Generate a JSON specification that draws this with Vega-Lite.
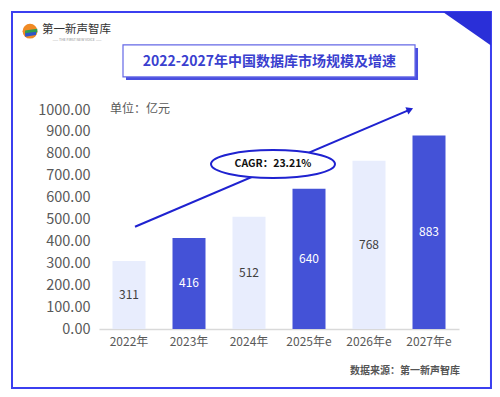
{
  "$schema": "https://vega.github.io/schema/vega-lite/v6.json",
  "width": 360,
  "height": 219,
  "autosize": {"type": "none"},
  "padding": {"left": 99, "top": 110, "right": 41, "bottom": 68},
  "background": "white",
  "config": {"view": {"stroke": null}, "font": "Noto Sans CJK SC", "axisY": {"labelOverlap": false}},
  "layer": [
    {
      "data": {"values": [
        {"year": "2022年", "value": 311, "kind": "light"},
        {"year": "2023年", "value": 416, "kind": "dark"},
        {"year": "2024年", "value": 512, "kind": "light"},
        {"year": "2025年e", "value": 640, "kind": "dark"},
        {"year": "2026年e", "value": 768, "kind": "light"},
        {"year": "2027年e", "value": 883, "kind": "dark"}
      ]},
      "encoding": {
        "x": {"field": "year", "type": "nominal", "sort": null,
              "scale": {"paddingInner": 0.45, "paddingOuter": 0.225},
              "axis": {"title": null, "labelAngle": 0, "domainColor": "#d9d9d9", "domainWidth": 1.5, "ticks": false, "labelFontSize": 12, "labelColor": "#595959", "labelPadding": 7}}
      },
      "layer": [
        {
          "mark": {"type": "bar"},
          "encoding": {
            "y": {"field": "value", "type": "quantitative",
                  "scale": {"domain": [0, 1000], "nice": false},
                  "axis": {"title": null, "values": [0,100,200,300,400,500,600,700,800,900,1000], "format": ".2f", "labelOverlap": false, "domain": false, "ticks": false, "grid": false, "labelFontSize": 14.5, "labelColor": "#595959", "labelPadding": 9}},
            "color": {"field": "kind", "type": "nominal", "scale": {"domain": ["light", "dark"], "range": ["#E8EDFD", "#4452D7"]}, "legend": null}
          }
        },
        {
          "transform": [{"calculate": "datum.value / 2", "as": "mid"}],
          "mark": {"type": "text", "fontSize": 12, "baseline": "middle"},
          "encoding": {
            "y": {"field": "mid", "type": "quantitative",
                  "axis": {"title": null, "values": [0,100,200,300,400,500,600,700,800,900,1000], "format": ".2f", "labelOverlap": false, "domain": false, "ticks": false, "grid": false, "labelFontSize": 14.5, "labelColor": "#595959", "labelPadding": 9}},
            "text": {"field": "value", "type": "quantitative"},
            "color": {"condition": {"test": "datum.kind === 'dark'", "value": "#ffffff"}, "value": "#404040"}
          }
        }
      ]
    },
    {
      "layer": [
        {
          "data": {"values": [{"x": -1.45, "x2": 6.533, "y": -269, "y2": 1447}]},
          "mark": {"type": "rect", "fill": "#ffffff", "fillOpacity": 0, "stroke": "#3B3FF0", "strokeWidth": 2, "clip": false},
          "encoding": {
            "x": {"field": "x", "type": "quantitative", "scale": {"domain": [0, 6], "nice": false, "zero": false}, "axis": null},
            "x2": {"field": "x2"},
            "y": {"field": "y", "type": "quantitative", "scale": {"domain": [0, 1000], "nice": false, "zero": false}, "axis": null},
            "y2": {"field": "y2"}
          }
        },
        {
          "data": {"values": [{"x": 0.45, "x2": 5.317, "y": 1137, "y2": 1283}]},
          "mark": {"type": "rect", "fill": "#4A4FE0", "clip": false},
          "encoding": {
            "x": {"field": "x", "type": "quantitative", "scale": {"domain": [0, 6], "nice": false, "zero": false}, "axis": null},
            "x2": {"field": "x2"},
            "y": {"field": "y", "type": "quantitative", "scale": {"domain": [0, 1000], "nice": false, "zero": false}, "axis": null},
            "y2": {"field": "y2"}
          }
        },
        {
          "data": {"values": [{"x": 0.4, "x2": 5.267, "y": 1151, "y2": 1297}]},
          "mark": {"type": "rect", "fill": "#ffffff", "stroke": "#6468E6", "strokeWidth": 1.2, "clip": false},
          "encoding": {
            "x": {"field": "x", "type": "quantitative", "scale": {"domain": [0, 6], "nice": false, "zero": false}, "axis": null},
            "x2": {"field": "x2"},
            "y": {"field": "y", "type": "quantitative", "scale": {"domain": [0, 1000], "nice": false, "zero": false}, "axis": null},
            "y2": {"field": "y2"}
          }
        },
        {
          "data": {"values": [{"x": 6.133, "y": 1338}]},
          "mark": {"type": "point", "shape": "M-1,-1 L1,-1 L1,0.4 Z", "size": 2304, "filled": true, "fill": "#2A2FD8", "opacity": 1, "clip": false},
          "encoding": {
            "x": {"field": "x", "type": "quantitative", "scale": {"domain": [0, 6], "nice": false, "zero": false}, "axis": null},
            "y": {"field": "y", "type": "quantitative", "scale": {"domain": [0, 1000], "nice": false, "zero": false}, "axis": null}
          }
        },
        {
          "data": {"values": [{"x": -1.15, "y": 1360}]},
          "mark": {"type": "point", "shape": "circle", "size": 220, "filled": true, "fill": "#F08A24", "opacity": 1, "clip": false},
          "encoding": {
            "x": {"field": "x", "type": "quantitative", "scale": {"domain": [0, 6], "nice": false, "zero": false}, "axis": null},
            "y": {"field": "y", "type": "quantitative", "scale": {"domain": [0, 1000], "nice": false, "zero": false}, "axis": null}
          }
        },
        {
          "data": {"values": [{"x": -1.13, "y": 1357}]},
          "mark": {"type": "point", "shape": "M-1,-0.2 L1,-0.5 L1,0.1 L-1,0.4 Z", "size": 150, "filled": true, "fill": "#2E9E4F", "opacity": 1, "clip": false},
          "encoding": {
            "x": {"field": "x", "type": "quantitative", "scale": {"domain": [0, 6], "nice": false, "zero": false}, "axis": null},
            "y": {"field": "y", "type": "quantitative", "scale": {"domain": [0, 1000], "nice": false, "zero": false}, "axis": null}
          }
        },
        {
          "data": {"values": [{"x": -1.14, "y": 1345}]},
          "mark": {"type": "point", "shape": "M-1,-0.2 L1,-0.5 L1,0.1 L-1,0.4 Z", "size": 120, "filled": true, "fill": "#2F55C8", "opacity": 1, "clip": false},
          "encoding": {
            "x": {"field": "x", "type": "quantitative", "scale": {"domain": [0, 6], "nice": false, "zero": false}, "axis": null},
            "y": {"field": "y", "type": "quantitative", "scale": {"domain": [0, 1000], "nice": false, "zero": false}, "axis": null}
          }
        },
        {
          "data": {"values": [{"x": 0.6, "y": 467, "x2": 5.183, "y2": 1002}]},
          "mark": {"type": "rule", "stroke": "#1F22D0", "strokeWidth": 2, "clip": false},
          "encoding": {
            "x": {"field": "x", "type": "quantitative", "scale": {"domain": [0, 6], "nice": false, "zero": false}, "axis": null},
            "x2": {"field": "x2"},
            "y": {"field": "y", "type": "quantitative", "scale": {"domain": [0, 1000], "nice": false, "zero": false}, "axis": null},
            "y2": {"field": "y2"}
          }
        },
        {
          "data": {"values": [{"x": 5.183, "y": 1002}]},
          "mark": {"type": "point", "shape": "triangle-right", "angle": -23, "size": 60, "filled": true, "fill": "#1F22D0", "opacity": 1, "clip": false},
          "encoding": {
            "x": {"field": "x", "type": "quantitative", "scale": {"domain": [0, 6], "nice": false, "zero": false}, "axis": null},
            "y": {"field": "y", "type": "quantitative", "scale": {"domain": [0, 1000], "nice": false, "zero": false}, "axis": null}
          }
        },
        {
          "data": {"values": [{"x": 2.9, "y": 753}]},
          "mark": {"type": "point", "shape": "M-1,0 A1,0.226 0 1,0 1,0 A1,0.226 0 1,0 -1,0 Z", "size": 15376, "filled": true, "fill": "#ffffff", "stroke": "#1F22D0", "strokeWidth": 2, "opacity": 1, "clip": false},
          "encoding": {
            "x": {"field": "x", "type": "quantitative", "scale": {"domain": [0, 6], "nice": false, "zero": false}, "axis": null},
            "y": {"field": "y", "type": "quantitative", "scale": {"domain": [0, 1000], "nice": false, "zero": false}, "axis": null}
          }
        },
        {
          "data": {"values": [{"x": 2.9, "y": 753, "t": "CAGR：23.21%"}]},
          "mark": {"type": "text", "fontSize": 10.5, "fontWeight": "bold", "color": "#111111", "baseline": "middle", "clip": false},
          "encoding": {
            "x": {"field": "x", "type": "quantitative", "scale": {"domain": [0, 6], "nice": false, "zero": false}, "axis": null},
            "y": {"field": "y", "type": "quantitative", "scale": {"domain": [0, 1000], "nice": false, "zero": false}, "axis": null},
            "text": {"field": "t"}
          }
        },
        {
          "data": {"values": [{"x": 2.84, "y": 1219, "t": "2022-2027年中国数据库市场规模及增速"}]},
          "mark": {"type": "text", "fontSize": 14, "fontWeight": "bold", "color": "#3A3FCF", "baseline": "middle", "clip": false},
          "encoding": {
            "x": {"field": "x", "type": "quantitative", "scale": {"domain": [0, 6], "nice": false, "zero": false}, "axis": null},
            "y": {"field": "y", "type": "quantitative", "scale": {"domain": [0, 1000], "nice": false, "zero": false}, "axis": null},
            "text": {"field": "t"}
          }
        },
        {
          "data": {"values": [{"x": -0.95, "y": 1367, "t": "第一新声智库"}]},
          "mark": {"type": "text", "fontSize": 11.5, "color": "#333333", "align": "left", "baseline": "middle", "clip": false},
          "encoding": {
            "x": {"field": "x", "type": "quantitative", "scale": {"domain": [0, 6], "nice": false, "zero": false}, "axis": null},
            "y": {"field": "y", "type": "quantitative", "scale": {"domain": [0, 1000], "nice": false, "zero": false}, "axis": null},
            "text": {"field": "t"}
          }
        },
        {
          "data": {"values": [{"x": -0.367, "y": 1320, "t": "—— THE FIRST NEW VOICE ——"}]},
          "mark": {"type": "text", "fontSize": 3.5, "color": "#888888", "baseline": "middle", "clip": false},
          "encoding": {
            "x": {"field": "x", "type": "quantitative", "scale": {"domain": [0, 6], "nice": false, "zero": false}, "axis": null},
            "y": {"field": "y", "type": "quantitative", "scale": {"domain": [0, 1000], "nice": false, "zero": false}, "axis": null},
            "text": {"field": "t"}
          }
        },
        {
          "data": {"values": [{"x": 0.183, "y": 1004, "t": "单位：亿元"}]},
          "mark": {"type": "text", "fontSize": 12, "color": "#595959", "align": "left", "baseline": "middle", "clip": false},
          "encoding": {
            "x": {"field": "x", "type": "quantitative", "scale": {"domain": [0, 6], "nice": false, "zero": false}, "axis": null},
            "y": {"field": "y", "type": "quantitative", "scale": {"domain": [0, 1000], "nice": false, "zero": false}, "axis": null},
            "text": {"field": "t"}
          }
        },
        {
          "data": {"values": [{"x": 6.017, "y": -192, "t": "数据来源：第一新声智库"}]},
          "mark": {"type": "text", "fontSize": 10, "fontWeight": "bold", "color": "#555555", "align": "right", "baseline": "middle", "clip": false},
          "encoding": {
            "x": {"field": "x", "type": "quantitative", "scale": {"domain": [0, 6], "nice": false, "zero": false}, "axis": null},
            "y": {"field": "y", "type": "quantitative", "scale": {"domain": [0, 1000], "nice": false, "zero": false}, "axis": null},
            "text": {"field": "t"}
          }
        }
      ]
    }
  ],
  "resolve": {"scale": {"x": "independent", "y": "independent", "color": "independent"}}
}
